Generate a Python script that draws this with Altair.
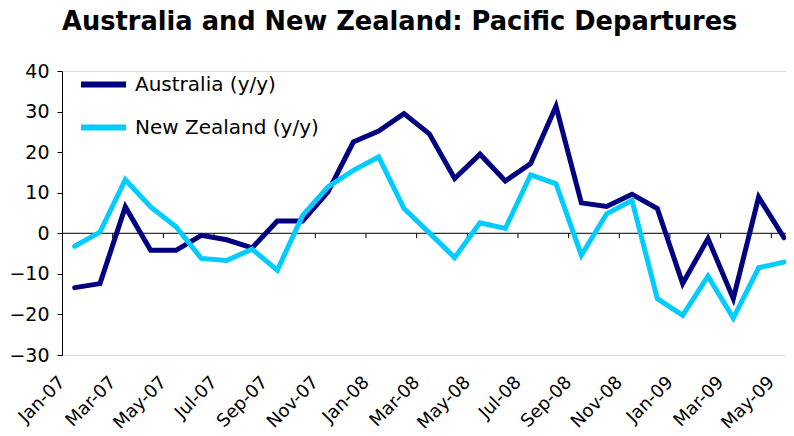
import json
import altair as alt
import pandas as pd

months = ["Jan-07", "Feb-07", "Mar-07", "Apr-07", "May-07", "Jun-07", "Jul-07", "Aug-07",
          "Sep-07", "Oct-07", "Nov-07", "Dec-07", "Jan-08", "Feb-08", "Mar-08", "Apr-08",
          "May-08", "Jun-08", "Jul-08", "Aug-08", "Sep-08", "Oct-08", "Nov-08", "Dec-08",
          "Jan-09", "Feb-09", "Mar-09", "Apr-09", "May-09"]
australia = [-13.4, -12.4, 6.5, -4.2, -4.2, -0.5, -1.6, -3.6, 3.0, 3.0, 10.2, 22.5, 25.2,
             29.5, 24.5, 13.5, 19.5, 12.9, 17.2, 31.3, 7.5, 6.6, 9.6, 6.1, -12.4, -1.3,
             -16.1, 8.9, -1.1]
new_zealand = [-3.2, 0.3, 13.2, 6.5, 1.6, -6.2, -6.7, -3.9, -9.1, 4.4, 11.4, 15.5, 18.8,
               6.1, 0.1, -6.0, 2.6, 1.2, 14.4, 12.2, -5.4, 4.8, 8.1, -16.1, -20.2, -10.6,
               -20.9, -8.5, -7.1]
series_names = ["Australia (y/y)", "New Zealand (y/y)"]
series_colors = ["#000080", "#00CCFF"]
y_ticks = [-30, -20, -10, 0, 10, 20, 30, 40]

rows = []
for i, m in enumerate(months):
    rows.append({"i": i, "month": m, "series": series_names[0], "value": australia[i]})
    rows.append({"i": i, "month": m, "series": series_names[1], "value": new_zealand[i]})
df = pd.DataFrame(rows)

tick_df = pd.DataFrame({"pos": [k - 0.5 for k in range(2, len(months), 2)]})

FONT = "DejaVu Sans"
label_expr = json.dumps(months) + "[round(datum.value)]"

x_scale = alt.Scale(domain=[-0.5, 28.08], nice=False, zero=False)
y_scale = alt.Scale(domain=[-30, 40], nice=False, zero=False)

lines = alt.Chart(df).mark_line(strokeWidth=5, strokeCap="round").encode(
    x=alt.X("i:Q", scale=x_scale,
            axis=alt.Axis(values=list(range(0, len(months), 2)), labelExpr=label_expr,
                          labelAngle=315, labelAlign="right", labelBaseline="top",
                          labelPadding=18, labelOffset=-19, labelFont=FONT,
                          labelFontSize=18, labelColor="#000000", labelOverlap=False,
                          labelBound=False, labelFlush=False,
                          domain=False, ticks=False, grid=False, title=None)),
    y=alt.Y("value:Q", scale=y_scale,
            axis=alt.Axis(values=y_ticks, labelFont=FONT, labelFontSize=19,
                          labelColor="#000000", tickSize=5, tickColor="#000000",
                          domainColor="#000000", labelPadding=8, grid=False,
                          labelOverlap=False, title=None)),
    color=alt.Color("series:N",
                    scale=alt.Scale(domain=series_names, range=series_colors),
                    legend=alt.Legend(orient="none", legendX=16, legendY=-12,
                                      symbolType="stroke", symbolSize=2025,
                                      symbolStrokeWidth=6, labelFont=FONT,
                                      labelFontSize=20, labelColor="#000000",
                                      labelOffset=6, labelLimit=400, padding=0,
                                      rowPadding=5, title=None)),
    detail="series:N",
)

zero_line = alt.Chart(pd.DataFrame({"z": [0]})).mark_rule(color="#000000", strokeWidth=1).encode(
    y=alt.Y("z:Q", scale=y_scale)
)

x_ticks = alt.Chart(tick_df).mark_rule(color="#000000", strokeWidth=1).encode(
    x=alt.X("pos:Q", scale=x_scale),
    y=alt.datum(0),
    y2=alt.datum(-1.2),
)

chart = alt.layer(zero_line, x_ticks, lines).properties(
    width=724,
    height=284,
    title=alt.Title("Australia and New Zealand: Pacific Departures", font=FONT,
                    fontSize=25.7, fontWeight="bold", color="#000000", anchor="start",
                    frame="group", baseline="alphabetic", offset=3),
    autosize=alt.AutoSizeParams(type="none"),
    padding={"left": 54, "top": 63, "right": 0, "bottom": 73},
).configure_view(stroke=None).configure(background="#ffffff")

chart.save("out.html", embed_options={"renderer": "svg", "actions": False})
